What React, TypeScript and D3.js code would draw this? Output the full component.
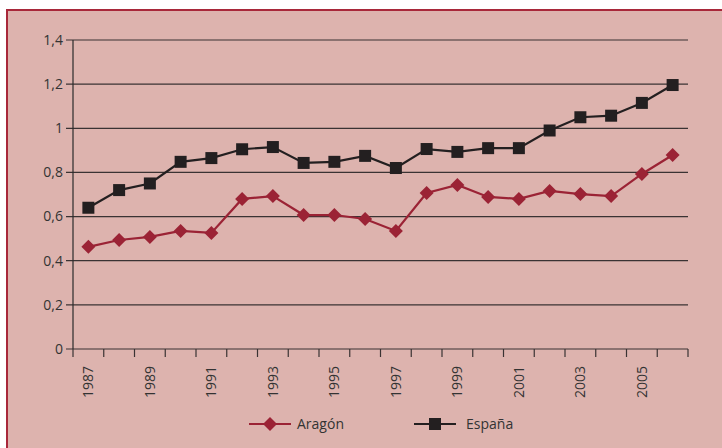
import React from "react";
import * as d3 from "d3";

const years = ["1987","1988","1989","1990","1991","1992","1993","1994","1995","1996","1997","1998","1999","2000","2001","2002","2003","2004","2005","2006"];
const aragon = [0.463,0.494,0.508,0.535,0.526,0.68,0.693,0.607,0.607,0.589,0.535,0.707,0.743,0.689,0.68,0.716,0.702,0.693,0.793,0.879];
const espana = [0.64,0.72,0.75,0.848,0.865,0.905,0.915,0.843,0.848,0.875,0.82,0.906,0.893,0.91,0.91,0.99,1.05,1.057,1.115,1.196];
const yTicks = [0,0.2,0.4,0.6,0.8,1,1.2,1.4];

const W = 722, H = 448;
const M = { left: 73, right: 688, top: 40, bottom: 349 };
const FONT = "'Open Sans', sans-serif";
const RED = "#9b2335";
const BLACK = "#231f20";

export default function App() {
  const x = d3.scaleBand<string>().domain(years).range([M.left, M.right]);
  const y = d3.scaleLinear().domain([0, 1.4]).range([M.bottom, M.top]);
  const cx = (yr: string) => (x(yr) as number) + x.bandwidth() / 2;
  const line = d3.line<number>().x((_, i) => cx(years[i])).y((v) => y(v));
  const fmt = (v: number) => (v === 0 || v === 1 ? String(v) : v.toFixed(1).replace(".", ","));
  const diamond = (px: number, py: number, r = 7) =>
    `M${px},${py - r}L${px + r},${py}L${px},${py + r}L${px - r},${py}Z`;
  const tickXs = years.map((yr) => x(yr) as number).concat([M.right]);

  return (
    <svg width={W} height={H} style={{ position: "absolute", left: 0, top: 0, display: "block" }}>
      <rect x={0} y={0} width={W} height={H} fill="#ffffff" />
      <rect x={7} y={10} width={W + 10} height={H + 10} fill="#ddb3ae" stroke="#a8283a" strokeWidth={2} />
      {yTicks.map((t) => (
        <g key={t}>
          <line x1={M.left - 7} x2={M.right} y1={y(t)} y2={y(t)} stroke="#3a3333" strokeWidth={1.2} />
          <text x={M.left - 10} y={y(t)} dy="0.35em" textAnchor="end" fontFamily={FONT} fontSize={14} fill="#333">
            {fmt(t)}
          </text>
        </g>
      ))}
      <line x1={M.left} x2={M.left} y1={M.top} y2={M.bottom} stroke="#2a2a2a" strokeWidth={1.2} />
      {tickXs.map((tx, i) => (
        <line key={i} x1={tx} x2={tx} y1={M.bottom} y2={M.bottom + 8} stroke="#3a3333" strokeWidth={1.2} />
      ))}
      {years.map((yr, i) =>
        i % 2 === 0 ? (
          <text
            key={yr}
            transform={`translate(${cx(yr) + 5},${M.bottom + 17}) rotate(-90)`}
            textAnchor="end"
            fontFamily={FONT}
            fontSize={14}
            fill="#333"
          >
            {yr}
          </text>
        ) : null
      )}
      <path d={line(espana) as string} fill="none" stroke={BLACK} strokeWidth={2.2} />
      {espana.map((v, i) => (
        <rect key={i} x={cx(years[i]) - 6} y={y(v) - 6} width={12} height={12} fill={BLACK} />
      ))}
      <path d={line(aragon) as string} fill="none" stroke={RED} strokeWidth={2.2} />
      {aragon.map((v, i) => (
        <path key={i} d={diamond(cx(years[i]), y(v))} fill={RED} />
      ))}
      <g>
        <line x1={249} x2={291} y1={424} y2={424} stroke={RED} strokeWidth={2.2} />
        <path d={diamond(270, 424)} fill={RED} />
        <text x={297} y={424} dy="0.35em" fontFamily={FONT} fontSize={14} fill="#333">Aragón</text>
        <line x1={414} x2={456} y1={424} y2={424} stroke={BLACK} strokeWidth={2.2} />
        <rect x={429} y={418} width={12} height={12} fill={BLACK} />
        <text x={466} y={424} dy="0.35em" fontFamily={FONT} fontSize={14} fill="#333">España</text>
      </g>
    </svg>
  );
}
